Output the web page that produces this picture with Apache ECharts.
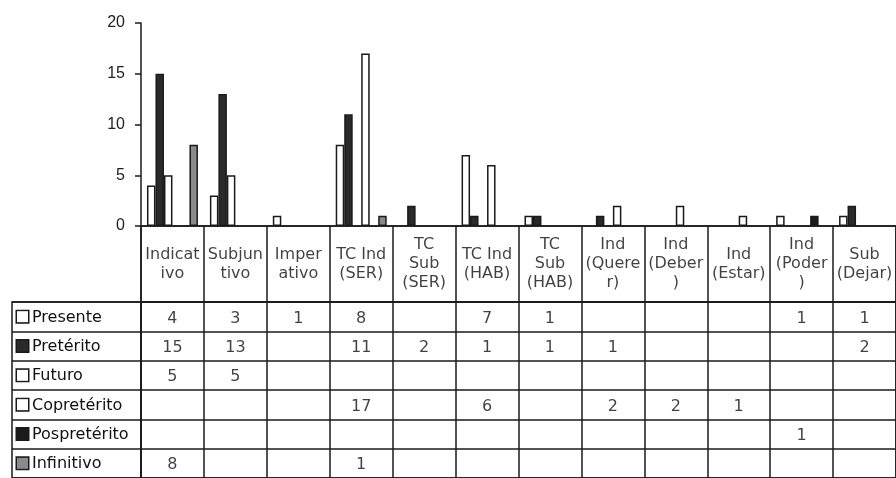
<!DOCTYPE html>
<html>
<head>
<meta charset="utf-8">
<script src="https://cdn.jsdelivr.net/npm/echarts@6/dist/echarts.min.js"></script>
<style>html,body{margin:0;padding:0;background:#fff;}#c{width:896px;height:478px;}</style>
</head>
<body>
<div id="c"></div>
<script>
const categories = ['Indicativo','Subjuntivo','Imperativo','TC Ind (SER)','TC Sub (SER)','TC Ind (HAB)','TC Sub (HAB)','Ind (Querer)','Ind (Deber)','Ind (Estar)','Ind (Poder)','Sub (Dejar)'];
const headerLabels = ['Indicat\nivo','Subjun\ntivo','Imper\nativo','TC Ind\n(SER)','TC\nSub\n(SER)','TC Ind\n(HAB)','TC\nSub\n(HAB)','Ind\n(Quere\nr)','Ind\n(Deber\n)','Ind\n(Estar)','Ind\n(Poder\n)','Sub\n(Dejar)'];
const seriesNames = ['Presente','Pretérito','Futuro','Copretérito','Pospretérito','Infinitivo'];
const presente     = [4, 3, 1, 8, null, 7, 1, null, null, null, 1, 1];
const preterito    = [15, 13, null, 11, 2, 1, 1, 1, null, null, null, 2];
const futuro       = [5, 5, null, null, null, null, null, null, null, null, null, null];
const copreterito  = [null, null, null, 17, null, 6, null, 2, 2, 1, null, null];
const pospreterito = [null, null, null, null, null, null, null, null, null, null, 1, null];
const infinitivo   = [8, null, null, 1, null, null, null, null, null, null, null, null];
const yTicks = [0, 5, 10, 15, 20];

const seriesData = [presente, preterito, futuro, copreterito, pospreterito, infinitivo];
const fills = ['#ffffff', '#2a2a2a', '#ffffff', '#ffffff', '#1c1c1c', '#8a8a8a'];
const LINE = '#1a1a1a';
const TXT = '#111';
const FONT = 'DejaVu Sans';

const bars = seriesNames.map((n, s) => ({
  type: 'bar', name: n, xAxisIndex: 0, yAxisIndex: 0,
  data: seriesData[s],
  barGap: '0%', barCategoryGap: '19%',
  itemStyle: { color: fills[s], borderColor: LINE, borderWidth: 1.5 }
}));

const cellData = [];
seriesData.forEach((arr, s) => arr.forEach((v, i) => {
  if (v !== null) cellData.push([categories[i], seriesNames[s], v]);
}));

const rich = {};
seriesNames.forEach((n, s) => {
  rich['k' + s] = { width: 11, height: 11, backgroundColor: fills[s], borderColor: LINE, borderWidth: 1.5 };
});
rich.t = { fontFamily: FONT, fontSize: 16, color: TXT, padding: [2, 0, 0, 4] };

const chart = echarts.init(document.getElementById('c'), null, { renderer: 'canvas' });
chart.setOption({
  animation: false,
  backgroundColor: '#fff',
  grid: [
    { left: 141, width: 757, top: 23, height: 203 },
    { left: 141, width: 757, top: 226, height: 76, show: true, borderColor: LINE, borderWidth: 1.5 },
    { left: 141, width: 757, top: 302, height: 181, show: true, borderColor: LINE, borderWidth: 1.5 },
    { left: 12, width: 129, top: 302, height: 181, show: true, borderColor: LINE, borderWidth: 1.5 }
  ],
  xAxis: [
    { gridIndex: 0, type: 'category', data: categories, axisLine: { lineStyle: { color: LINE, width: 1.5 } }, axisTick: { show: false }, axisLabel: { show: false } },
    { gridIndex: 1, type: 'category', data: categories, axisLine: { show: false }, axisTick: { show: false }, axisLabel: { show: false }, splitLine: { show: true, interval: 0, lineStyle: { color: LINE, width: 1.5 } } },
    { gridIndex: 2, type: 'category', data: categories, axisLine: { show: false }, axisTick: { show: false }, axisLabel: { show: false }, splitLine: { show: true, interval: 0, lineStyle: { color: LINE, width: 1.5 } } },
    { gridIndex: 3, type: 'value', show: false, min: 0, max: 1 }
  ],
  yAxis: [
    { gridIndex: 0, type: 'value', min: yTicks[0], max: yTicks[yTicks.length - 1], interval: 5,
      axisLine: { show: true, lineStyle: { color: LINE, width: 1.5 } },
      axisTick: { show: true, length: 6, lineStyle: { color: LINE, width: 1.5 } },
      axisLabel: { margin: 16, color: '#222', fontFamily: 'Liberation Sans', fontSize: 16 },
      splitLine: { show: false } },
    { gridIndex: 1, type: 'value', min: 0, max: 1, show: false },
    { gridIndex: 2, type: 'category', data: seriesNames, inverse: true, axisLine: { show: false }, axisTick: { show: false }, axisLabel: { show: false }, splitLine: { show: true, interval: 0, lineStyle: { color: LINE, width: 1.5 } } },
    { gridIndex: 3, type: 'category', data: seriesNames, inverse: true, axisLine: { show: false }, axisTick: { show: false },
      splitLine: { show: true, interval: 0, lineStyle: { color: LINE, width: 1.5 } },
      axisLabel: { inside: true, margin: 5, align: 'left', interval: 0,
        formatter: (v, i) => '{k' + i + '|}{t|' + v + '}', rich: rich } }
  ],
  series: bars.concat([
    { type: 'scatter', xAxisIndex: 1, yAxisIndex: 1, symbolSize: 0, silent: true,
      data: categories.map(c => [c, 0.5]),
      label: { show: true, position: 'inside', formatter: p => headerLabels[p.dataIndex], fontFamily: FONT, fontSize: 16, lineHeight: 19, color: TXT, align: 'center', verticalAlign: 'middle' } },
    { type: 'scatter', xAxisIndex: 2, yAxisIndex: 2, symbolSize: 0, silent: true,
      data: cellData,
      label: { show: true, position: 'inside', formatter: p => String(p.value[2]), fontFamily: FONT, fontSize: 16, color: TXT, offset: [0, 2] } }
  ])
});
</script>
</body>
</html>
